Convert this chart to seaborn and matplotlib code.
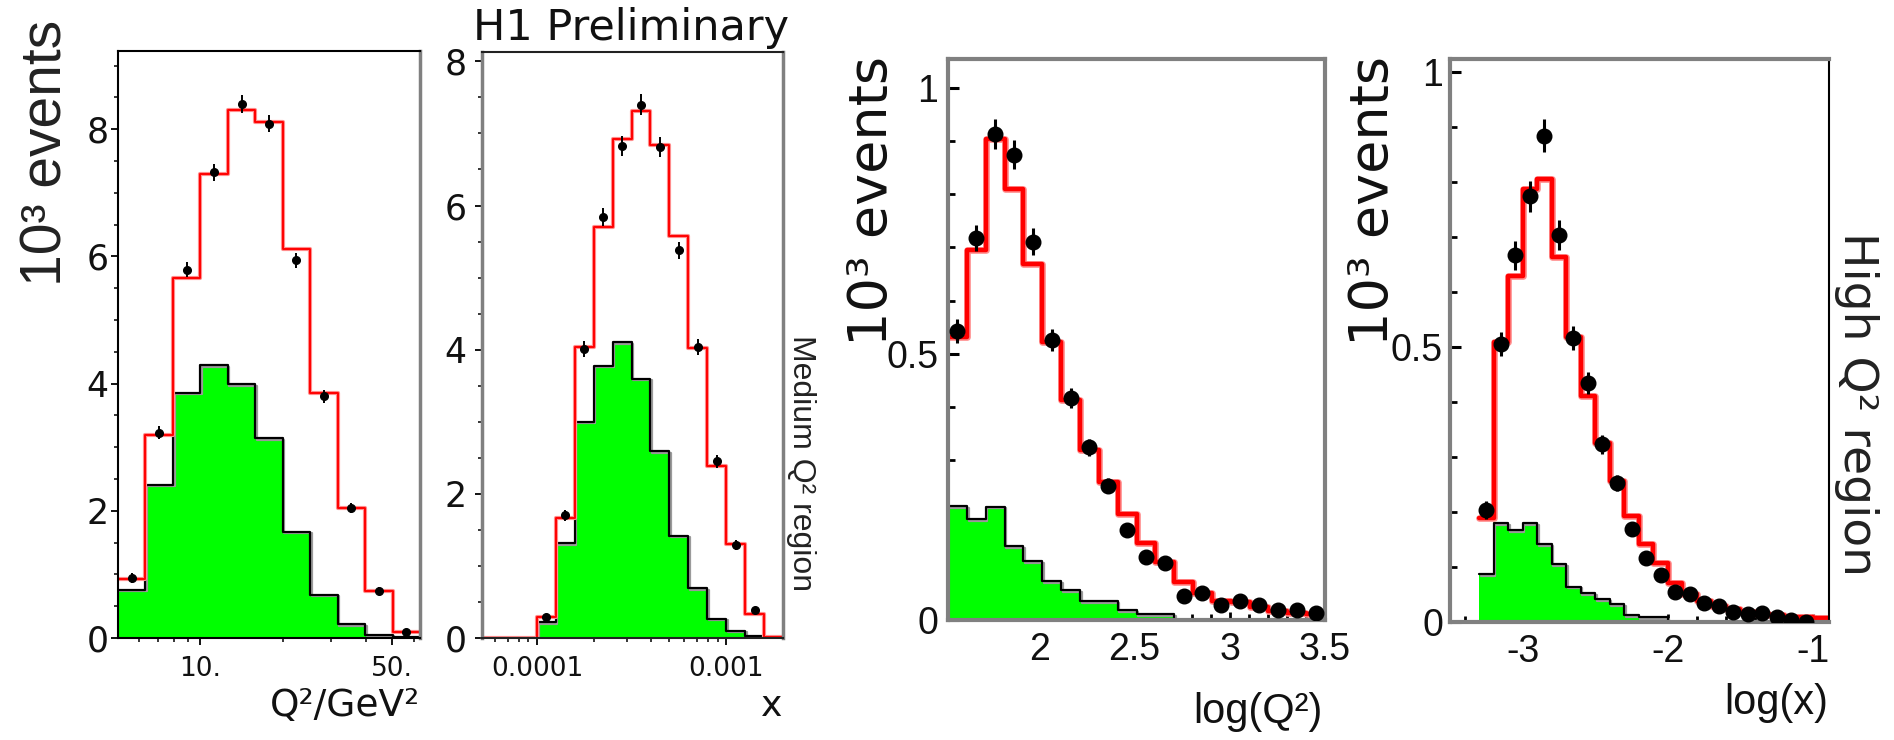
import numpy as np
import matplotlib
matplotlib.use("Agg")
import matplotlib.pyplot as plt
import matplotlib.patheffects as pe
from matplotlib.ticker import FixedLocator, NullFormatter, MultipleLocator
import seaborn as sns

# ---------------- data ----------------
# Panel 1: Q^2 / GeV^2 (medium Q^2), log10 bin edges
q2_edges_log = [0.7, 0.8, 0.9, 1.0, 1.1, 1.2, 1.3, 1.4, 1.5, 1.6, 1.7, 1.8]
q2_data = [0.94, 3.23, 5.79, 7.32, 8.40, 8.09, 5.94, 3.80, 2.04, 0.74, 0.09]
q2_err = [0.08, 0.10, 0.12, 0.13, 0.14, 0.14, 0.12, 0.10, 0.08, 0.06, 0.03]
q2_mc = [0.92, 3.19, 5.66, 7.30, 8.31, 8.12, 6.11, 3.86, 2.04, 0.74, 0.09]
q2_green = [0.76, 2.41, 3.86, 4.29, 3.99, 3.14, 1.67, 0.68, 0.22, 0.05, 0.01]

# Panel 2: x (medium Q^2), log10 bin edges
x_edges_log = [-4.3, -4.2, -4.1, -4.0, -3.9, -3.8, -3.7, -3.6, -3.5, -3.4,
               -3.3, -3.2, -3.1, -3.0, -2.9, -2.8, -2.7]
x_data = [None, None, None, 0.29, 1.70, 4.01, 5.84, 6.83, 7.40, 6.81, 5.38,
          4.04, 2.45, 1.29, 0.39, None]
x_err = [0, 0, 0, 0.04, 0.08, 0.11, 0.13, 0.14, 0.15, 0.14, 0.12, 0.11, 0.09,
         0.07, 0.04, 0]
x_mc = [0, 0, 0, 0.29, 1.67, 4.04, 5.70, 6.92, 7.31, 6.84, 5.58, 4.02, 2.38,
        1.30, 0.33, 0.01]
x_green = [0, 0, 0, 0.22, 1.32, 3.00, 3.78, 4.10, 3.60, 2.59, 1.42, 0.69, 0.27,
           0.10, 0.03, 0.0]

# Panel 3: log(Q^2) (high Q^2)
lq2_edges = [1.52, 1.619, 1.718, 1.817, 1.916, 2.015, 2.114, 2.213, 2.312,
             2.411, 2.51, 2.609, 2.708, 2.807, 2.906, 3.005, 3.104, 3.203,
             3.302, 3.401, 3.50]
lq2_data = [0.543, 0.718, 0.913, 0.874, 0.711, 0.526, 0.417, 0.325, 0.252,
            0.170, 0.119, 0.107, 0.045, 0.051, 0.029, 0.035, 0.029, 0.018,
            0.018, 0.014]
lq2_err = [0.022, 0.025, 0.028, 0.027, 0.025, 0.021, 0.018, 0.016, 0.014,
           0.012, 0.010, 0.009, 0.007, 0.007, 0.006, 0.006, 0.005, 0.004,
           0.004, 0.004]
lq2_mc = [0.532, 0.695, 0.903, 0.810, 0.669, 0.522, 0.413, 0.320, 0.259,
          0.199, 0.144, 0.109, 0.071, 0.051, 0.035, 0.034, 0.025, 0.016,
          0.014, 0.011]
lq2_green = [0.214, 0.190, 0.213, 0.139, 0.110, 0.073, 0.056, 0.036, 0.036,
             0.018, 0.011, 0.011, 0, 0, 0, 0, 0, 0, 0, 0]

# Panel 4: log(x) (high Q^2)
lx_edges = [-3.3, -3.2, -3.1, -3.0, -2.9, -2.8, -2.7, -2.6, -2.5, -2.4, -2.3,
            -2.2, -2.1, -2.0, -1.9, -1.8, -1.7, -1.6, -1.5, -1.4, -1.3, -1.2,
            -1.1, -1.0, -0.9]
lx_data = [0.204, 0.506, 0.667, 0.774, 0.884, 0.704, 0.516, 0.434, 0.323,
           0.253, 0.169, 0.116, 0.086, 0.054, 0.051, 0.034, 0.030, 0.019,
           0.015, 0.017, 0.010, 0.004, 0.0, None]
lx_err = [0.016, 0.022, 0.026, 0.028, 0.030, 0.027, 0.022, 0.020, 0.017,
          0.015, 0.012, 0.010, 0.009, 0.007, 0.007, 0.006, 0.005, 0.004,
          0.004, 0.004, 0.003, 0.003, 0.003, 0]
lx_mc = [0.189, 0.510, 0.630, 0.788, 0.805, 0.664, 0.518, 0.411, 0.326,
         0.257, 0.193, 0.141, 0.107, 0.071, 0.051, 0.039, 0.030, 0.023,
         0.019, 0.015, 0.013, 0.010, 0.009, 0.007]
lx_green = [0.087, 0.180, 0.167, 0.180, 0.141, 0.105, 0.064, 0.053, 0.041,
            0.033, 0.013, 0.009, 0.009, 0, 0, 0, 0, 0, 0, 0, 0, 0, 0, 0]

# ---------------- style ----------------
sns.set_theme(style="white")
plt.rcParams["axes.unicode_minus"] = False
plt.rcParams["font.family"] = ["DejaVu Sans"]
NARROW = ["Liberation Sans", "DejaVu Sans"]
WIDE = ["DejaVu Sans"]

W, H = 1894, 740
fig = plt.figure(figsize=(W / 100, H / 100), dpi=100)
fig.patch.set_facecolor("white")


def add_ax(l, t, r, b):
    return fig.add_axes([l / W, 1 - b / H, (r - l) / W, (b - t) / H])


ax1 = add_ax(118, 51, 420, 638)
ax2 = add_ax(482, 52, 783, 638)
ax3 = add_ax(948, 59, 1325, 620)
ax4 = add_ax(1450, 59, 1829, 622)

GREEN = "#00ff00"
GRAY = "#808080"


def draw_panel(ax, edges, green, mc, data, err, log, red_lw, ms, xerr, elw):
    edges_arr = np.asarray(edges, dtype=float)
    mids = (edges_arr[:-1] + edges_arr[1:]) / 2
    xs = list(10 ** mids) if log else list(mids)
    kw = dict(bins=list(edges), element="step", ax=ax, legend=False)
    if log:
        kw["log_scale"] = True
    sns.histplot(x=xs, weights=list(green), fill=True, facecolor=GREEN,
                 edgecolor="none", linewidth=0, alpha=1, **kw)
    sns.histplot(x=xs, weights=list(green), fill=False, color="black", linewidth=1.6,
                 path_effects=[pe.SimpleLineShadow(offset=(1.2, -1.2),
                                                   shadow_color="#9a9a9a", alpha=1),
                               pe.Normal()], **kw)
    sns.histplot(x=xs, weights=list(mc), fill=False, color="#ff0000", linewidth=red_lw,
                 path_effects=[pe.Stroke(linewidth=red_lw + 1.6, foreground="#ff8c8c"),
                               pe.Normal()], **kw)
    px = [x for x, v in zip(xs, data) if v is not None]
    py = [v for v in data if v is not None]
    pe_ = [e for e, v in zip(err, data) if v is not None]
    ax.errorbar(px, py, yerr=pe_, xerr=xerr, fmt="o", color="black", ms=ms,
                elinewidth=elw, capsize=0, zorder=6, mec="black")
    ax.set_xlabel("")
    ax.set_ylabel("")


draw_panel(ax1, q2_edges_log, q2_green, q2_mc, q2_data, q2_err, True, 1.4, 5.5, None, 1.4)
draw_panel(ax2, x_edges_log, x_green, x_mc, x_data, x_err, True, 1.4, 5.5, None, 1.4)
draw_panel(ax3, lq2_edges, lq2_green, lq2_mc, lq2_data, lq2_err, False, 3.2, 10.5, 0.035, 2.2)
draw_panel(ax4, lx_edges, lx_green, lx_mc, lx_data, lx_err, False, 3.2, 10.5, 0.03, 2.2)

# ---------------- axes: panels 1 and 2 ----------------
ax1.set_xlim(10 ** 0.7, 10 ** 1.8)
ax1.set_ylim(0, 9.23)
ax1.xaxis.set_major_locator(FixedLocator([10, 50]))
ax1.xaxis.set_minor_locator(FixedLocator([6, 7, 8, 9, 20, 30, 40, 60]))
ax1.xaxis.set_minor_formatter(NullFormatter())
ax1.set_xticklabels(["10.", "50."])
ax1.yaxis.set_major_locator(FixedLocator([0, 2, 4, 6, 8]))
ax1.set_yticklabels(["0", "2", "4", "6", "8"])
ax1.yaxis.set_minor_locator(MultipleLocator(0.5))

ax2.set_xlim(10 ** -4.29, 10 ** -2.70)
ax2.set_ylim(0, 8.13)
ax2.xaxis.set_major_locator(FixedLocator([1e-4, 1e-3]))
ax2.xaxis.set_minor_locator(FixedLocator([6e-5, 7e-5, 8e-5, 9e-5, 2e-4, 3e-4, 4e-4, 5e-4,
                                          6e-4, 7e-4, 8e-4, 9e-4, 2e-3]))
ax2.xaxis.set_minor_formatter(NullFormatter())
ax2.set_xticklabels(["0.0001", "0.001"])
ax2.yaxis.set_major_locator(FixedLocator([0, 2, 4, 6, 8]))
ax2.set_yticklabels(["0", "2", "4", "6", "8"])
ax2.yaxis.set_minor_locator(MultipleLocator(0.5))

for ax, ypad in ((ax1, 2), (ax2, 6)):
    ax.tick_params(axis="both", which="both", direction="out", colors="black",
                   bottom=True, left=True, top=False, right=False)
    ax.tick_params(axis="both", which="major", length=5, width=1.3)
    ax.tick_params(axis="both", which="minor", length=3, width=1.1)
    ax.tick_params(axis="y", which="major", labelsize=25, pad=ypad)
    ax.tick_params(axis="x", which="major", labelsize=19, pad=8)
    for lab in ax.get_xticklabels() + ax.get_yticklabels():
        lab.set_family(WIDE)
        lab.set_color("#111111")

for s in ("left", "top", "bottom"):
    ax1.spines[s].set_color("black")
    ax1.spines[s].set_linewidth(1.5)
ax1.spines["right"].set_color(GRAY)
ax1.spines["right"].set_linewidth(2.5)
ax2.spines["left"].set_color(GRAY)
ax2.spines["left"].set_linewidth(2.5)
ax2.spines["right"].set_color(GRAY)
ax2.spines["right"].set_linewidth(2.5)
for s in ("top", "bottom"):
    ax2.spines[s].set_color("#222222")
    ax2.spines[s].set_linewidth(1.5)

# ---------------- axes: panels 3 and 4 ----------------
ax3.set_xlim(1.52, 3.5)
ax3.set_ylim(0, 1.054)
ax3.xaxis.set_major_locator(FixedLocator([2, 2.5, 3, 3.5]))
ax3.set_xticklabels(["2", "2.5", "3", "3.5"])
ax3.xaxis.set_minor_locator(MultipleLocator(0.1))

ax4.set_xlim(-3.5, -0.89)
ax4.set_ylim(0, 1.024)
ax4.xaxis.set_major_locator(FixedLocator([-3, -2, -1]))
ax4.set_xticklabels(["-3", "-2", "-1"])
ax4.xaxis.set_minor_locator(MultipleLocator(0.2))

for ax, ypad in ((ax3, 7), (ax4, 5)):
    ax.yaxis.set_major_locator(FixedLocator([0, 0.5, 1]))
    ax.set_yticklabels(["0", "0.5", "1"])
    ax.yaxis.set_minor_locator(MultipleLocator(0.1))
    ax.tick_params(axis="both", which="both", direction="in", colors="black",
                   bottom=True, left=True, top=False, right=False)
    ax.tick_params(axis="y", which="major", length=8, width=2.2, labelsize=27, pad=ypad)
    ax.tick_params(axis="y", which="minor", length=5, width=2.0)
    ax.tick_params(axis="x", which="major", length=6, width=2.0, labelsize=27, pad=9)
    ax.tick_params(axis="x", which="minor", length=4, width=2.0)
    for lab in ax.get_xticklabels() + ax.get_yticklabels():
        lab.set_family(NARROW)
        lab.set_color("#111111")
    for s in ("left", "top", "bottom", "right"):
        ax.spines[s].set_color(GRAY)
        ax.spines[s].set_linewidth(3)
ax4.spines["right"].set_color("black")
ax4.spines["right"].set_linewidth(1.5)

# ---------------- texts ----------------
def ftext(x, y, s, **kw):
    fig.text(x / W, 1 - y / H, s, **kw)

ftext(47, 153, "10³ events", rotation=90, ha="center", va="center",
      fontsize=41, family=NARROW, color="#222222")
ftext(631, 28, "H1 Preliminary", ha="center", va="center", fontsize=31,
      family=WIDE, color="#111111")
ftext(420, 706, "Q²/GeV²", ha="right", va="center", fontsize=27, family=WIDE,
      color="#111111")
ftext(772, 706, "x", ha="center", va="center", fontsize=26, family=WIDE,
      color="#111111")
ftext(801, 463, "Medium Q² region", rotation=-90, ha="center", va="center",
      fontsize=23, family=NARROW, color="#222222")

ftext(872, 201, "10³ events", rotation=90, ha="center", va="center",
      fontsize=39, family=WIDE, color="#111111")
ftext(1373, 201, "10³ events", rotation=90, ha="center", va="center",
      fontsize=39, family=WIDE, color="#111111")
ftext(1323, 712, "log(Q²)", ha="right", va="center", fontsize=30, family=NARROW,
      color="#111111")
ftext(1828, 703, "log(x)", ha="right", va="center", fontsize=30, family=NARROW,
      color="#111111")
ftext(1856, 404, "High Q² region", rotation=-90, ha="center", va="center",
      fontsize=34, family=WIDE, color="#222222")

fig.savefig("out.png", dpi=100, facecolor="white")
